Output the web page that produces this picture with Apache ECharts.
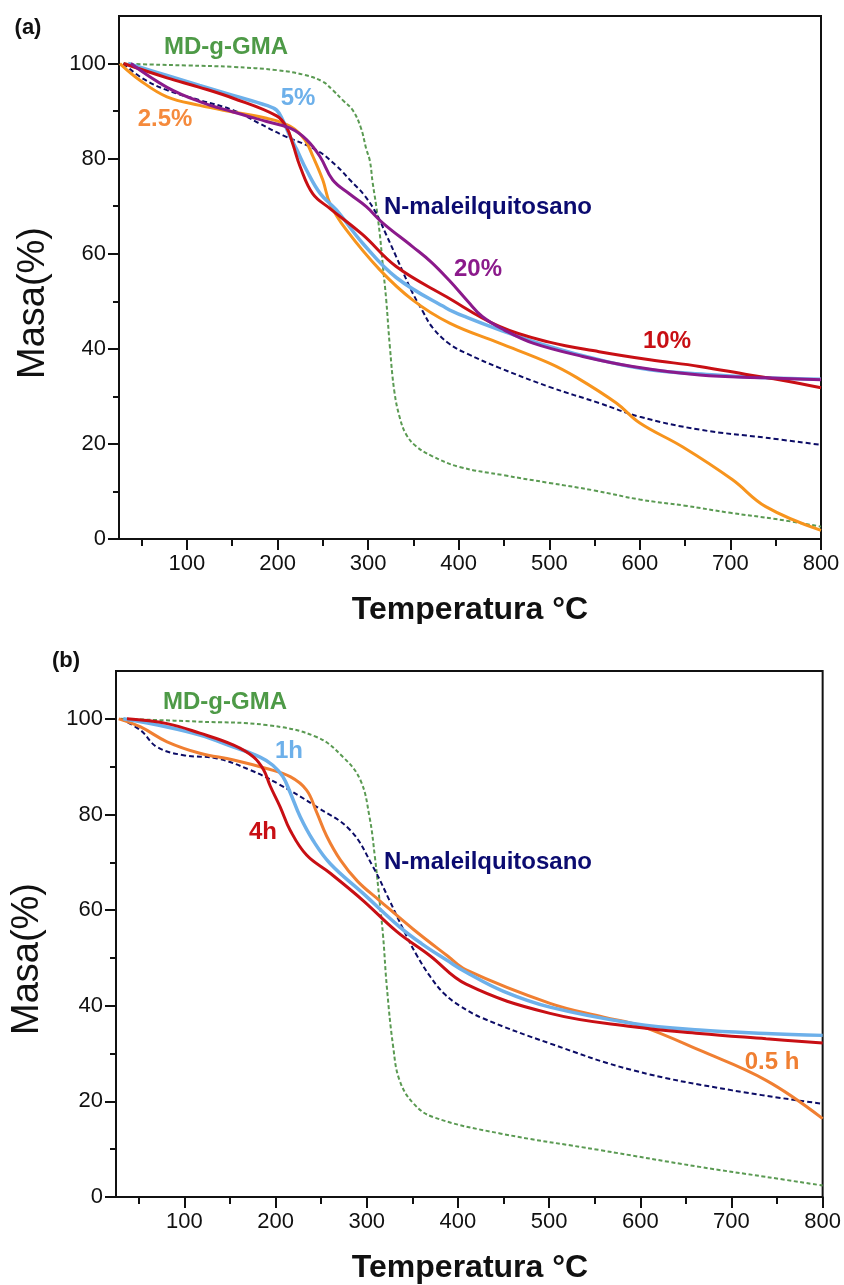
<!DOCTYPE html>
<html>
<head>
<meta charset="utf-8">
<script src="https://cdn.jsdelivr.net/npm/echarts@6/dist/echarts.min.js"></script>
<style>
html,body{margin:0;padding:0;background:#fff;}
#c{width:844px;height:1285px;}
</style>
</head>
<body>
<div id="c"></div>
<script>
// ---------- tick values ----------
const xMajorTicks = [100, 200, 300, 400, 500, 600, 700, 800];
const xMinorTicks = [50, 150, 250, 350, 450, 550, 650, 750];
const yMajorTicks = [0, 20, 40, 60, 80, 100];
const yMinorTicks = [10, 30, 50, 70, 90];

// ---------- panel (a) data: [Temperatura °C, Masa %] ----------
const a_MDgGMA = [[30,100],[60,99.8],[100,99.6],[150,99.3],[200,98.6],[230,97.6],[250,96.2],[261,94.4],[272,92.3],[283,90.2],[292,86.5],[298,82],[302,79.5],[305,75],[309,70],[313,64],[316,58],[320,50.3],[324,40.5],[329,31],[335,25.5],[342,22],[353,19.5],[370,17.5],[400,15.2],[450,13.4],[500,11.8],[550,10.2],[600,8.3],[650,7],[700,5.5],[750,4.2],[800,2.6]];
const a_Nmal = [[30,100],[50,97],[78,94.4],[114,92.3],[151,90.2],[180,87.4],[206,84.9],[243,81.8],[265,78.5],[280,75.5],[295,72.5],[309,68.5],[320,64],[331,59.4],[340,55.5],[349,51.8],[360,48],[371,44.5],[390,41],[409,39],[445,36],[500,32],[555,28.6],[600,25.7],[666,23],[739,21.3],[800,19.8]];
const a_2_5 = [[26,100],[48,96.5],[78,93],[114,91.2],[151,89.8],[188,88.5],[214,86.8],[230,84],[239,80.5],[250,75.5],[258,70.5],[276,65],[313,56.6],[349,50.3],[390,45.4],[445,41.2],[500,37],[530,34],[574,28.6],[600,24.4],[647,19.4],[702,12.5],[739,6.8],[800,1.8]];
const a_5 = [[35,100],[78,97.5],[114,95.4],[151,93.3],[188,91.2],[199,90.2],[206,88],[214,84.6],[221,82],[232,77.6],[247,72.7],[265,69.2],[294,62.2],[331,55],[386,48.6],[409,46.6],[445,44],[500,40.5],[555,37.7],[611,35.6],[684,34.5],[739,33.9],[800,33.6]];
const a_10 = [[30,100],[78,97],[114,95],[151,92.7],[199,89],[210,86.6],[217,83],[225,78.3],[239,72.6],[258,69.5],[294,64],[331,57.3],[386,51],[445,44.7],[500,41.4],[555,39.4],[611,37.7],[666,36.3],[721,34.5],[757,33.4],[800,31.8]];
const a_20 = [[38,100],[78,95],[114,92],[151,89.8],[188,87.8],[214,86.4],[232,84],[247,80.4],[261,75.5],[280,72.5],[298,69.9],[316,66.5],[349,61.5],[370,58.2],[390,54.3],[410,50],[426,46.8],[450,44],[482,41.2],[537,38.4],[592,36.3],[666,34.5],[739,33.9],[800,33.5]];

// ---------- panel (b) data ----------
const b_MDgGMA = [[30,100],[117,99.4],[190,98.7],[245,96.2],[274,92],[293,87.2],[303,79.5],[309,71],[314,62],[318,54.4],[322,44],[329,31.4],[336,24.4],[351,19.6],[373,16.7],[446,13.3],[556,9.8],[665,6.3],[738,4.2],[800,2.4]];
const b_Nmal = [[30,100],[52,97.6],[70,94.1],[99,92.4],[136,91.7],[172,89.3],[202,86.5],[245,81.6],[282,76.7],[307,69],[325,62],[340,56],[355,50.5],[370,46],[385,42.5],[402,40],[427,37.4],[501,32.1],[592,26.5],[701,22.3],[800,19.5]];
const b_05h = [[28,100],[52,98.3],[81,95.2],[117,92.8],[154,91.4],[190,89.6],[216,87.9],[234,85.1],[245,80.5],[256,75.5],[271,70.5],[290,66],[314,62],[351,56],[388,50.5],[409,47.5],[501,40.5],[560,37.6],[600,35.8],[665,30.7],[738,24.4],[800,16.4]];
const b_1h = [[33,100],[81,98.3],[117,96.6],[154,94.1],[183,92],[197,90.3],[208,87.9],[216,84.6],[227,79.5],[241,74.6],[260,69.7],[296,63.5],[336,56.5],[360,53],[388,49.5],[409,47],[450,43],[501,39.7],[592,36.3],[665,34.9],[738,34.2],[800,33.8]];
const b_4h = [[37,100],[81,99],[117,97],[154,94.5],[176,92],[187,89.3],[194,86],[205,81.6],[216,76.7],[234,71.5],[260,67.7],[296,62],[333,55.5],[369,50.5],[409,44.5],[501,38.4],[592,35.6],[665,34.2],[738,33.1],[800,32.2]];

const FONT = '"Liberation Sans", Arial, sans-serif';
const chart = echarts.init(document.getElementById('c'), null, {renderer: 'canvas'});

const grids = [
  {left: 119, top: 16, width: 702, height: 523},
  {left: 116, top: 671, width: 707, height: 526}
];

function xAxes(gi) {
  return [
    {
      type: 'value', gridIndex: gi, min: 25, max: 800, position: 'bottom',
      axisLine: {onZero: false, lineStyle: {color: '#111', width: 2}},
      axisTick: {show: true, customValues: xMajorTicks, length: 11, inside: false, lineStyle: {color: '#111', width: 2}},
      axisLabel: {customValues: xMajorTicks, margin: 14, fontFamily: FONT, fontSize: 22, color: '#111'},
      splitLine: {show: false}
    },
    {
      type: 'value', gridIndex: gi, min: 25, max: 800, position: 'bottom',
      axisLine: {show: false, onZero: false},
      axisTick: {show: true, customValues: xMinorTicks, length: 7, lineStyle: {color: '#111', width: 2}},
      axisLabel: {show: false},
      splitLine: {show: false}
    }
  ];
}
function yAxes(gi) {
  return [
    {
      type: 'value', gridIndex: gi, min: 0, max: 110, position: 'left',
      axisLine: {onZero: false, lineStyle: {color: '#111', width: 2}},
      axisTick: {show: true, customValues: yMajorTicks, length: 11, lineStyle: {color: '#111', width: 2}},
      axisLabel: {customValues: yMajorTicks, margin: 13, fontFamily: FONT, fontSize: 22, color: '#111'},
      splitLine: {show: false}
    },
    {
      type: 'value', gridIndex: gi, min: 0, max: 110, position: 'left',
      axisLine: {show: false, onZero: false},
      axisTick: {show: true, customValues: yMinorTicks, length: 6, lineStyle: {color: '#111', width: 2}},
      axisLabel: {show: false},
      splitLine: {show: false}
    }
  ];
}

function line(data, xi, yi, color, width, dash, z) {
  return {
    type: 'line', xAxisIndex: xi, yAxisIndex: yi, data: data,
    showSymbol: false, symbol: 'none', smooth: 0.4,
    lineStyle: {color: color, width: width, type: dash || 'solid'},
    z: z || 2, silent: true, animation: false
  };
}

const C = {
  green: '#5a9a52', navy: '#0c0c66', orangeA: '#f7941d', blue: '#6db0ea',
  red: '#c80f14', purple: '#8b1a8b', orangeB: '#f07f32'
};

function txt(x, y, s, color, size) {
  return {
    type: 'text', x: x, y: y, z: 50,
    style: {text: s, fill: color, fontFamily: FONT, fontSize: size, fontWeight: 'bold', align: 'center', verticalAlign: 'middle'}
  };
}

const option = {
  backgroundColor: '#fff',
  animation: false,
  grid: grids.map(g => Object.assign({show: true, borderColor: '#111', borderWidth: 2, backgroundColor: 'transparent', containLabel: false}, g)),
  xAxis: [].concat(xAxes(0), xAxes(1)),
  yAxis: [].concat(yAxes(0), yAxes(1)),
  series: [
    line(a_MDgGMA, 0, 0, C.green, 2, [4, 2.5], 1),
    line(a_Nmal, 0, 0, C.navy, 2, [5, 3], 1),
    line(a_2_5, 0, 0, C.orangeA, 3),
    line(a_5, 0, 0, C.blue, 3.5),
    line(a_10, 0, 0, C.red, 3),
    line(a_20, 0, 0, C.purple, 3),
    line(b_MDgGMA, 2, 2, C.green, 2, [4, 2.5], 1),
    line(b_Nmal, 2, 2, C.navy, 2, [5, 3], 1),
    line(b_05h, 2, 2, C.orangeB, 3),
    line(b_1h, 2, 2, C.blue, 3.5),
    line(b_4h, 2, 2, C.red, 3)
  ],
  graphic: [
    // panel labels
    txt(28, 28, '(a)', '#111', 22),
    txt(66, 661, '(b)', '#111', 22),
    // axis titles panel a
    {type: 'text', x: 34, y: 303, rotation: Math.PI / 2, z: 50,
     style: {text: 'Masa(%)', fill: '#111', fontFamily: FONT, fontSize: 38, align: 'center', verticalAlign: 'middle'}},
    txt(470, 610, 'Temperatura °C', '#111', 32),
    {type: 'rect', shape: {x: 300, y: 624, width: 350, height: 22}, style: {fill: '#fff'}, z: 60},
    // axis titles panel b
    {type: 'text', x: 28, y: 959, rotation: Math.PI / 2, z: 50,
     style: {text: 'Masa(%)', fill: '#111', fontFamily: FONT, fontSize: 38, align: 'center', verticalAlign: 'middle'}},
    txt(470, 1268, 'Temperatura °C', '#111', 32),
    // series labels panel a
    txt(226, 47, 'MD-g-GMA', '#4e9a47', 24),
    txt(298, 98, '5%', C.blue, 24),
    txt(165, 119, '2.5%', '#f58a3c', 24),
    txt(488, 207, 'N-maleilquitosano', '#0b0b70', 24),
    txt(478, 269, '20%', C.purple, 24),
    txt(667, 341, '10%', C.red, 24),
    // series labels panel b
    txt(225, 702, 'MD-g-GMA', '#4e9a47', 24),
    txt(289, 751, '1h', C.blue, 24),
    txt(263, 832, '4h', C.red, 24),
    txt(488, 862, 'N-maleilquitosano', '#0b0b70', 24),
    txt(772, 1062, '0.5 h', C.orangeB, 24)
  ]
};
chart.setOption(option);
</script>
</body>
</html>
